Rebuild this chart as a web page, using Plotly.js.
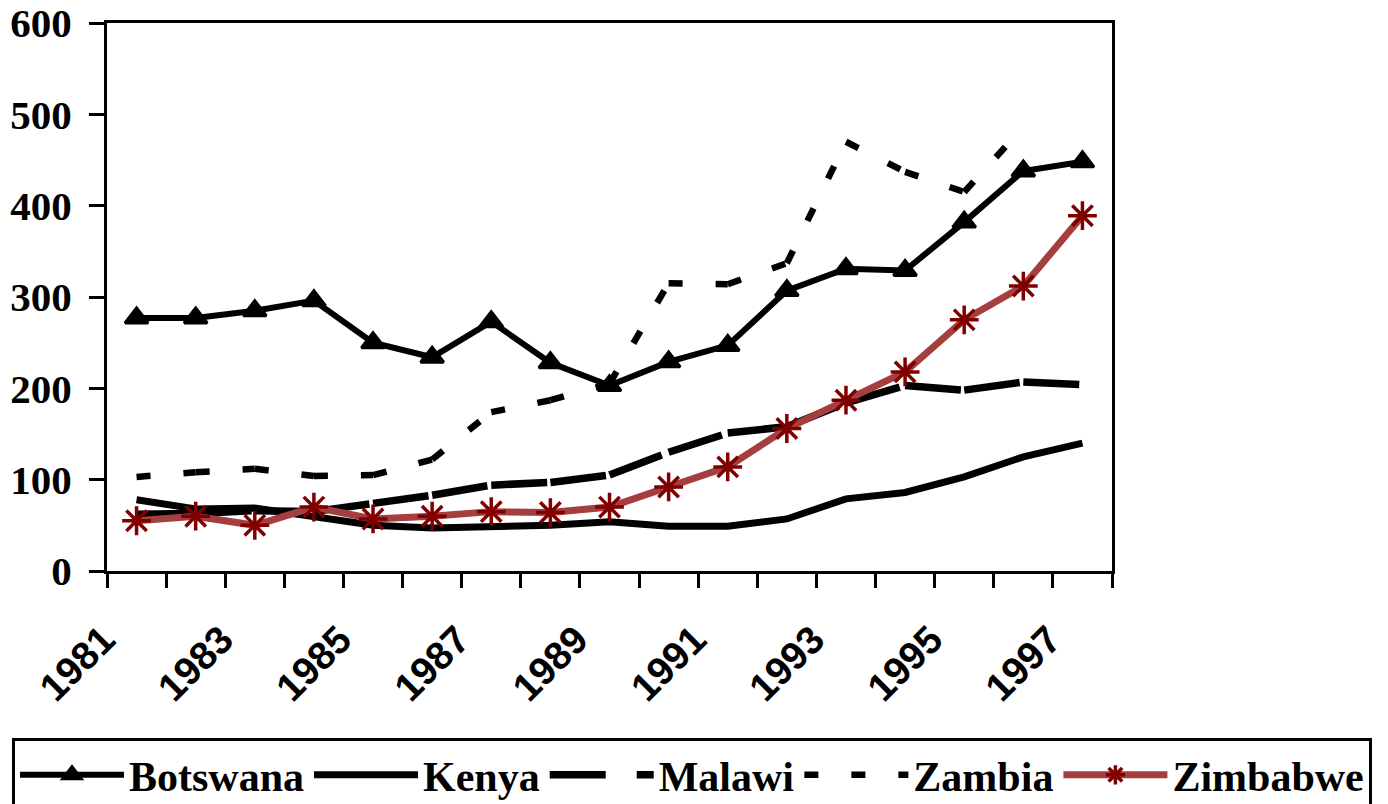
<!DOCTYPE html>
<html>
<head>
<meta charset="utf-8">
<script src="https://cdn.plot.ly/plotly-3.0.1.min.js"></script>
<style>html,body{margin:0;padding:0;background:#fff;}#chart{width:1388px;height:804px;}</style>
</head>
<body>
<div id="chart"></div>
<script>
const years = ["1981","1982","1983","1984","1985","1986","1987","1988","1989","1990","1991","1992","1993","1994","1995","1996","1997"];
const tickLabels = ["1981","","1983","","1985","","1987","","1989","","1991","","1993","","1995","","1997"];
const botswana = [277, 277, 285, 296, 250, 234, 273, 228, 203, 229, 247, 307, 331, 329, 382, 438, 448];
const kenya    = [78, 68, 69, 59, 50, 47, 48, 50, 54, 49, 49, 57, 79, 86, 103, 125, 140];
const malawi   = [62, 63, 66, 65, 74, 83, 94, 97, 105, 130, 151, 158, 184, 203, 198, 207, 204];
const zambia   = [103, 108, 112, 104, 105, 122, 174, 187, 205, 315, 314, 337, 470, 437, 415, 486, null];
const zimbabwe = [55, 60, 50, 70, 57, 60, 65, 64, 70, 92, 114, 156, 187, 218, 275, 312, 389];

const traces = [];
// dashed series drawn segment by segment so the dash pattern restarts at every point
function segmented(name, vals, width, dash, rank) {
  let first = true;
  for (let i = 0; i < vals.length - 1; i++) {
    if (vals[i] == null || vals[i+1] == null) continue;
    traces.push({
      type: 'scatter', mode: 'lines', name: name,
      showlegend: first, legendrank: rank,
      x: [years[i], years[i+1]], y: [vals[i], vals[i+1]],
      line: {color: '#000000', width: width, dash: dash},
      hoverinfo: 'skip'
    });
    first = false;
  }
}
segmented('Zambia', zambia, 6.5, '14px,33px', 4);
segmented('Malawi', malawi, 7.5, '56px,31px', 3);
traces.push({type:'scatter', mode:'lines', name:'Kenya', legendrank:2, x: years, y: kenya,
  line:{color:'#000000', width:7}});
traces.push({type:'scatter', mode:'lines+markers', name:'Botswana', legendrank:1, x: years, y: botswana,
  line:{color:'#000000', width:6},
  marker:{symbol:'triangle-up', size:20, color:'#000000', line:{color:'#000000', width:3}}});
traces.push({type:'scatter', mode:'lines+markers', name:'Zimbabwe', legendrank:5, x: years, y: zimbabwe,
  line:{color:'#A53E3E', width:7},
  marker:{symbol:'asterisk-open', size:24, color:'#800000', line:{color:'#800000', width:3.5}}});

const L = 10, R = 10, T = 23, B = 233, W = 1388, H = 804;
const gw = W - L - R;
const layout = {
  width: W, height: H,
  margin: {l:L, r:R, t:T, b:B, autoexpand:false},
  paper_bgcolor:'#ffffff', plot_bgcolor:'#ffffff',
  showlegend: true,
  xaxis: {
    type:'category', range:[-0.5, 16.5],
    domain: [(107 - L) / gw, (1112 - L) / gw],
    tickmode:'array', tickvals: years, ticktext: tickLabels,
    tickson:'boundaries', ticks:'outside', ticklen:14, tickwidth:3, tickcolor:'#000',
    tickangle:-45, ticklabelstandoff: 27, ticklabelshift: -33,
    tickfont:{family:'Liberation Sans, Arial, sans-serif', size:39, color:'#000', weight:'bold'},
    showline:true, linecolor:'#000', linewidth:3, mirror:true,
    showgrid:false, zeroline:false
  },
  yaxis: {
    range:[0,600], tickmode:'linear', tick0:0, dtick:100,
    ticks:'outside', ticklen:15, tickwidth:3, tickcolor:'#000',
    ticklabelstandoff: 9,
    tickfont:{family:'Liberation Serif, Times New Roman, serif', size:41, color:'#000', weight:'bold'},
    showline:true, linecolor:'#000', linewidth:3, mirror:true,
    showgrid:false, zeroline:false
  },
  legend: {
    orientation:'h', x:(12 - L) / gw, xanchor:'left', y:-(738 - 571) / (H - T - B), yanchor:'top',
    bgcolor:'#ffffff', bordercolor:'#000', borderwidth:3,
    itemwidth:104, traceorder:'normal',
    font:{family:'Liberation Serif, Times New Roman, serif', size:42, color:'#000', weight:'bold'}
  }
};
Plotly.newPlot('chart', traces, layout, {displayModeBar:false, staticPlot:true});
</script>
</body>
</html>
